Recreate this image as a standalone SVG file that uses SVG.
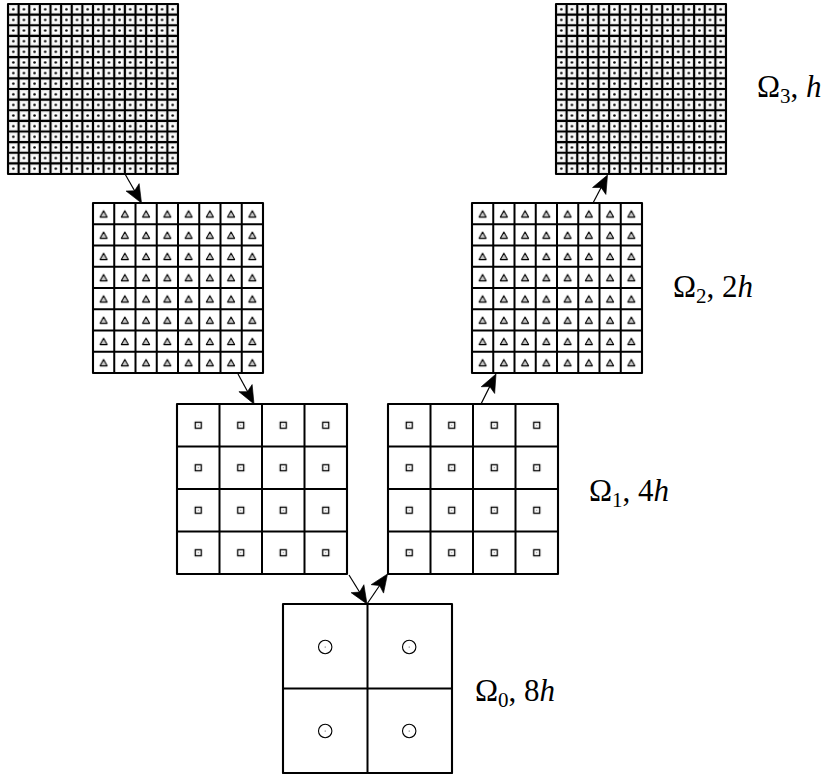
<svg xmlns="http://www.w3.org/2000/svg" xmlns:xlink="http://www.w3.org/1999/xlink" width="829" height="774" viewBox="0 0 829 774">
<style>
.lines{fill:none;stroke:#000;stroke-width:2}
.lines16{fill:none;stroke:#000;stroke-width:2.1}
.border{fill:none;stroke:#000;stroke-width:2.1;stroke-linejoin:round}
.conn{fill:none;stroke:#000;stroke-width:1.2}
.lbl{font-family:"Liberation Serif","DejaVu Serif",serif;font-size:31px;fill:#000}
.sub{font-size:21px}
.it{font-style:italic}
.circ{fill:none;stroke:#000;stroke-width:1.1}
</style>
<defs>
<pattern id="p16" patternUnits="userSpaceOnUse" x="0" y="0" width="10.625" height="10.625">
<rect width="10.625" height="10.625" fill="#fff"/>
<rect x="1.7" y="1.7" width="7.225" height="7.225" fill="#fff" stroke="#cfcfcf" stroke-width="0.8"/>
<circle cx="5.3125" cy="5.3125" r="1.3" fill="#000"/>
</pattern>
<pattern id="p8" patternUnits="userSpaceOnUse" x="0" y="0" width="21.25" height="21.25">
<rect width="21.25" height="21.25" fill="#fff"/>
<polygon points="7.1,14.1 14.1,14.1 10.6,7.8" fill="#c8c8c8" stroke="#000" stroke-width="1.1" stroke-linejoin="round"/>
</pattern>
<pattern id="p4" patternUnits="userSpaceOnUse" x="0" y="0" width="42.5" height="42.5">
<rect width="42.5" height="42.5" fill="#fff"/>
<rect x="18.25" y="18.25" width="6" height="6" fill="#fff" stroke="#000" stroke-width="1.3"/>
<circle cx="21.25" cy="21.25" r="0.6" fill="#666"/>
</pattern>
<path id="g16" class="lines16" d="M10.625,0V170M21.25,0V170M31.875,0V170M42.5,0V170M53.125,0V170M63.75,0V170M74.375,0V170M85,0V170M95.625,0V170M106.25,0V170M116.875,0V170M127.5,0V170M138.125,0V170M148.75,0V170M159.375,0V170M0,10.625H170M0,21.25H170M0,31.875H170M0,42.5H170M0,53.125H170M0,63.75H170M0,74.375H170M0,85H170M0,95.625H170M0,106.25H170M0,116.875H170M0,127.5H170M0,138.125H170M0,148.75H170M0,159.375H170"/>
<path id="g8" class="lines" d="M21.25,0V170M42.5,0V170M63.75,0V170M85,0V170M106.25,0V170M127.5,0V170M148.75,0V170M0,21.25H170M0,42.5H170M0,63.75H170M0,85H170M0,106.25H170M0,127.5H170M0,148.75H170"/>
<path id="g4" class="lines" d="M42.5,0V170M85,0V170M127.5,0V170M0,42.5H170M0,85H170M0,127.5H170"/>
<path id="head" d="M0,0 L-18,-7.5 L-14,0 L-18,7.5 Z" fill="#000" stroke="#000" stroke-width="0.6" stroke-linejoin="round"/>
</defs>
<rect width="829" height="774" fill="#fff"/>

<g id="omega3-left" transform="translate(8,4)">
<rect width="170" height="170" fill="url(#p16)"/>
<use xlink:href="#g16"/>
<rect width="170" height="170" class="border"/>
</g>
<g id="omega3-right" transform="translate(556,4)">
<rect width="170" height="170" fill="url(#p16)"/>
<use xlink:href="#g16"/>
<rect width="170" height="170" class="border"/>
</g>
<g id="omega2-left" transform="translate(93,203)">
<rect width="170" height="170" fill="url(#p8)"/>
<use xlink:href="#g8"/>
<rect width="170" height="170" class="border"/>
</g>
<g id="omega2-right" transform="translate(472,203)">
<rect width="170" height="170" fill="url(#p8)"/>
<use xlink:href="#g8"/>
<rect width="170" height="170" class="border"/>
</g>
<g id="omega1-left" transform="translate(177,404)">
<rect width="170" height="170" fill="url(#p4)"/>
<use xlink:href="#g4"/>
<rect width="170" height="170" class="border"/>
</g>
<g id="omega1-right" transform="translate(388,404)">
<rect width="170" height="170" fill="url(#p4)"/>
<use xlink:href="#g4"/>
<rect width="170" height="170" class="border"/>
</g>
<g id="omega0" transform="translate(283,604)">
<rect width="169" height="169" fill="#fff"/>
<path class="lines" d="M84.5,0V169M0,84.5H169"/>
<circle class="circ" cx="42.2" cy="43" r="6.7"/>
<circle class="circ" cx="126.2" cy="43" r="6.7"/>
<circle class="circ" cx="42.2" cy="127" r="6.7"/>
<circle class="circ" cx="126.2" cy="127" r="6.7"/>
<circle cx="42.2" cy="43" r="0.6" fill="#444"/>
<circle cx="126.2" cy="43" r="0.6" fill="#444"/>
<circle cx="42.2" cy="127" r="0.6" fill="#444"/>
<circle cx="126.2" cy="127" r="0.6" fill="#444"/>
<rect width="169" height="169" class="border"/>
</g>

<g id="connectors">
<line class="conn" x1="125" y1="174" x2="137" y2="195"/>
<use xlink:href="#head" transform="translate(141.5,203) rotate(60.4)"/>
<line class="conn" x1="238" y1="374" x2="250" y2="396"/>
<use xlink:href="#head" transform="translate(254,404) rotate(61.9)"/>
<line class="conn" x1="349" y1="575" x2="362" y2="596"/>
<use xlink:href="#head" transform="translate(367,604) rotate(58.2)"/>
<line class="conn" x1="367" y1="604" x2="382" y2="582"/>
<use xlink:href="#head" transform="translate(387.5,574) rotate(-55.7)"/>
<line class="conn" x1="481" y1="404" x2="492" y2="382"/>
<use xlink:href="#head" transform="translate(496,374) rotate(-63.4)"/>
<line class="conn" x1="593" y1="203" x2="603.5" y2="183"/>
<use xlink:href="#head" transform="translate(607.5,175) rotate(-62.6)"/>
</g>

<g id="labels">
<text class="lbl" x="757" y="97">Ω<tspan class="sub" dy="6">3</tspan><tspan dy="-6">, </tspan><tspan class="it">h</tspan></text>
<text class="lbl" x="673" y="297">Ω<tspan class="sub" dy="6">2</tspan><tspan dy="-6">, 2</tspan><tspan class="it">h</tspan></text>
<text class="lbl" x="589" y="501">Ω<tspan class="sub" dy="6">1</tspan><tspan dy="-6">, 4</tspan><tspan class="it">h</tspan></text>
<text class="lbl" x="475" y="701">Ω<tspan class="sub" dy="6">0</tspan><tspan dy="-6">, 8</tspan><tspan class="it">h</tspan></text>
</g>
</svg>
